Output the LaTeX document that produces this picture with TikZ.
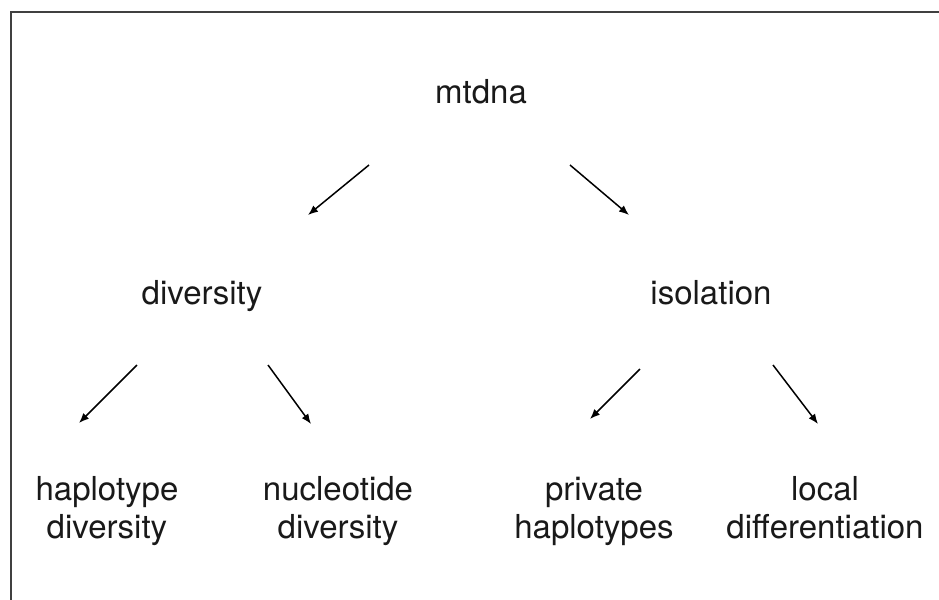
\documentclass[tikz,border=0pt]{standalone}
\usepackage{fontspec}
\setmainfont{TeX Gyre Heros}
\usepackage{tikz}
\usetikzlibrary{arrows.meta}
\usetikzlibrary{math}

\begin{document}
\begin{tikzpicture}[x=0.5pt,y=-0.5pt,line width=0.75pt,
    label/.style={anchor=base, inner sep=0pt, align=center,
      font=\fontsize{16.5}{19}\selectfont, text=black!90},
    link/.style={-{Latex[length=5pt,width=4pt]}, black}]

  \tikzmath{
    \rowA = 103; % baseline top row
    \rowB = 304; % baseline middle row
    \rowC = 538; % baseline last line bottom row
  }

  \useasboundingbox (0,0) rectangle (939,600);

  % frame of the slide
  \draw[black!75, line width=0.8pt] (11,600) -- (11,12) -- (939,12);

  % labels
  \node[label] (mtdna) at (481, \rowA) {mtdna};
  \node[label] (div)   at (202, \rowB) {diversity};
  \node[label] (iso)   at (711, \rowB) {isolation};

  \node[label] (hap)   at (107, \rowC) {haplotype\\diversity};
  \node[label] (nuc)   at (338, \rowC) {nucleotide\\diversity};
  \node[label] (priv)  at (594, \rowC) {private\\haplotypes};
  \node[label] (loc)   at (825, \rowC) {local\\differentiation};

  % end points of the arrows
  \coordinate (mtdnaL) at (369,165);
  \coordinate (mtdnaR) at (570,165);
  \coordinate (divT)   at (308,215);
  \coordinate (isoT)   at (629,215);

  \coordinate (divL)   at (137,365);
  \coordinate (divR)   at (268,365);
  \coordinate (hapT)   at (79,423);
  \coordinate (nucT)   at (311,424);

  \coordinate (isoL)   at (640,369);
  \coordinate (isoR)   at (773,365);
  \coordinate (privT)  at (590,419);
  \coordinate (locT)   at (818,424);

  % arrows
  \draw[link] (mtdnaL) -- (divT);
  \draw[link] (mtdnaR) -- (isoT);
  \draw[link] (divL) -- (hapT);
  \draw[link] (divR) -- (nucT);
  \draw[link] (isoL) -- (privT);
  \draw[link] (isoR) -- (locT);

\end{tikzpicture}
\end{document}
